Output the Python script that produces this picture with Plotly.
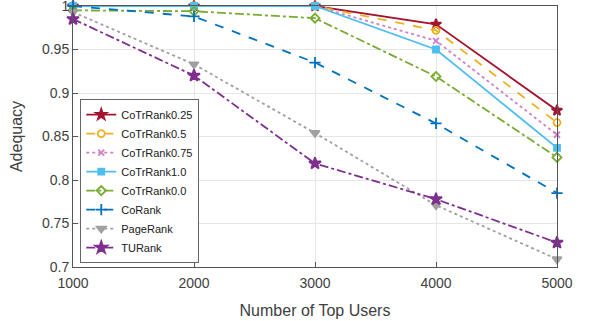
import plotly.graph_objects as go

x_vals = [1000, 2000, 3000, 4000, 5000]
cotr_025 = [1.0, 1.0, 1.0, 0.979, 0.880]
cotr_05 = [1.0, 1.0, 1.0, 0.972, 0.866]
cotr_075 = [1.0, 1.0, 1.0, 0.960, 0.852]
cotr_10 = [1.0, 1.0, 1.0, 0.950, 0.837]
cotr_00 = [0.995, 0.994, 0.986, 0.919, 0.826]
corank = [1.0, 0.988, 0.935, 0.865, 0.785]
pagerank = [0.993, 0.933, 0.854, 0.771, 0.709]
turank = [0.985, 0.920, 0.819, 0.778, 0.728]

y_ticks = [0.7, 0.75, 0.8, 0.85, 0.9, 0.95, 1.0]
y_tick_labels = ["0.7", "0.75", "0.8", "0.85", "0.9", "0.95", "1"]

names = ["CoTrRank0.25", "CoTrRank0.5", "CoTrRank0.75", "CoTrRank1.0",
         "CoTrRank0.0", "CoRank", "PageRank", "TURank"]
series = [cotr_025, cotr_05, cotr_075, cotr_10, cotr_00, corank, pagerank, turank]
colors = ["#A2142F", "#EDB120", "#D080C8", "#4DBEEE", "#77AC30", "#0072BD", "#A0A0A0", "#7E2F8E"]
dashes = ["solid", "dash", "dot", "solid", "dashdot", "dash", "dot", "dashdot"]
symbols = ["star", "circle-open", "x-thin-open", "square", "diamond-open",
           "cross-thin-open", "triangle-down", "star"]
sizes = [8, 7, 6, 6, 7, 8, 8, 9]

fig = go.Figure()
for n, s, c, d, sym, sz in zip(names, series, colors, dashes, symbols, sizes):
    fig.add_trace(go.Scatter(
        x=x_vals, y=s, name=n, mode="lines+markers",
        line=dict(color=c, dash=d, width=1.8),
        marker=dict(symbol=sym, size=sz, color=c, line=dict(color=c, width=1.8)),
        cliponaxis=False,
    ))

axis_common = dict(showline=True, linecolor="#555555", linewidth=1, mirror=True,
                   showgrid=True, gridcolor="#E6E6E6", ticks="inside", ticklen=5,
                   tickcolor="#555555", zeroline=False, automargin=False,
                   ticklabeloverflow="allow",
                   tickfont=dict(family="Liberation Sans, Arial", size=14, color="#404040"))

fig.update_layout(
    width=589, height=321,
    margin=dict(l=73, r=32, t=6, b=54),
    paper_bgcolor="white", plot_bgcolor="white",
    font=dict(family="Liberation Sans, Arial", color="#404040"),
    xaxis=dict(range=[1000, 5000], tickvals=x_vals, ticklabelstandoff=3,
               title=dict(text="Number of Top Users", font=dict(size=16)),
               **axis_common),
    yaxis=dict(range=[0.69999, 1.00001], tickvals=y_ticks, ticktext=y_tick_labels,
               title=dict(text="Adequacy", font=dict(size=16)),
               **axis_common),
    legend=dict(x=0.015, y=0.015, xanchor="left", yanchor="bottom",
                bgcolor="white", bordercolor="#666666", borderwidth=1,
                font=dict(size=11, color="#202020"), tracegroupgap=0,
                itemwidth=30),
    showlegend=True,
)

fig.write_html("out.html", config={"displayModeBar": False},
               post_script="document.body.style.margin='0';")
